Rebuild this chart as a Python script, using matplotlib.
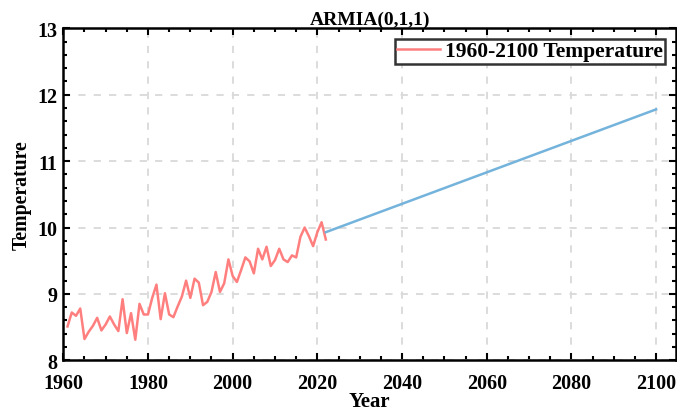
import numpy as np
from matplotlib import pyplot as plt
from matplotlib.ticker import MultipleLocator
from matplotlib.transforms import ScaledTranslation

# observed temperature, 1961-2022
years = np.arange(1961, 2023)
temps = [8.51, 8.72, 8.67, 8.78, 8.32, 8.43, 8.52, 8.64, 8.45, 8.54,
         8.66, 8.54, 8.44, 8.92, 8.41, 8.71, 8.31, 8.85, 8.69, 8.69,
         8.94, 9.14, 8.62, 9.01, 8.69, 8.65, 8.81, 8.96, 9.20, 8.94,
         9.23, 9.17, 8.83, 8.88, 9.03, 9.33, 9.03, 9.16, 9.52, 9.27,
         9.18, 9.36, 9.55, 9.49, 9.31, 9.68, 9.52, 9.71, 9.42, 9.51,
         9.68, 9.52, 9.48, 9.58, 9.55, 9.86, 10.00, 9.87, 9.72, 9.93,
         10.08, 9.82]

# ARIMA forecast
fc_years = [2022, 2100]
fc_temps = [9.93, 11.78]

plt.rcParams['font.family'] = ['Liberation Serif', 'DejaVu Serif']
plt.rcParams['font.weight'] = 'bold'

fig = plt.figure(figsize=(6.77, 4.14), dpi=100)
ax = fig.add_axes([0.0935, 0.1273, 0.905, 0.8017])

ax.plot(years, temps, color='#FF7F7F', lw=1.8, label='1960-2100 Temperature', zorder=3)
ax.plot(fc_years, fc_temps, color='#74B3DB', lw=1.8, zorder=3)

ax.set_xlim(1960, 2104.7)
ax.set_ylim(8, 13)
ax.xaxis.set_major_locator(MultipleLocator(20))
ax.xaxis.set_minor_locator(MultipleLocator(5))
ax.yaxis.set_major_locator(MultipleLocator(1))
ax.yaxis.set_minor_locator(MultipleLocator(0.2))

ax.grid(True, which='major', color='#d9d9d9', ls=(0, (4, 4.5)), lw=1.3)
ax.tick_params(which='both', direction='in', top=True, right=True, width=1.5, labelsize=14.5)
ax.tick_params(which='major', length=5)
ax.tick_params(axis='x', which='major', pad=9)
ax.tick_params(axis='y', which='major', pad=4.5)
ax.tick_params(which='minor', length=3)
for s in ax.spines.values():
    s.set_linewidth(1.8)
for lb in ax.get_xticklabels() + ax.get_yticklabels():
    lb.set_fontweight('bold')

# the "8" sits a little lower in the original
fig.canvas.draw()
ylabs = ax.get_yticklabels()
ylabs[0].set_transform(ylabs[0].get_transform() + ScaledTranslation(0, -4 / 72, fig.dpi_scale_trans))

ax.set_xlabel('Year', fontsize=15, fontweight='bold', labelpad=-1.5)
ax.set_ylabel('Temperature', fontsize=14.2, fontweight='bold', labelpad=3.5)
ax.set_title('ARMIA(0,1,1)', fontsize=14, fontweight='bold', pad=2)

leg = ax.legend(loc='upper right', framealpha=1, fancybox=False,
                edgecolor='#333333', handlelength=2.0, handletextpad=0.25,
                borderpad=0.1, borderaxespad=0.5,
                prop={'weight': 'bold', 'size': 15.5})
leg.get_frame().set_linewidth(1.8)

fig.savefig('out.png', dpi=100)
